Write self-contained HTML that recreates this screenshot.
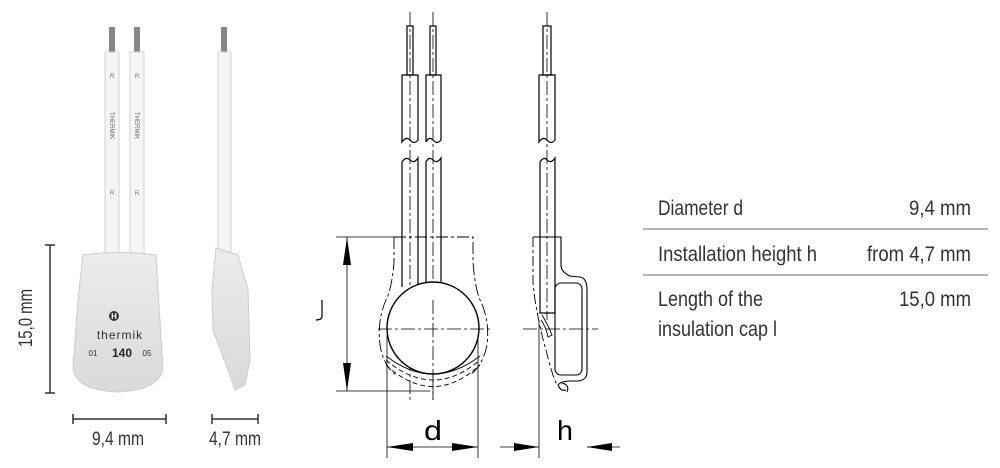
<!DOCTYPE html>
<html><head><meta charset="utf-8"><style>
html,body{margin:0;padding:0;background:#fff;}
svg{display:block}
</style></head><body>
<svg width="1000" height="468" viewBox="0 0 1000 468" xmlns="http://www.w3.org/2000/svg">
<defs>
<linearGradient id="cap" x1="0" y1="0" x2="0" y2="1"><stop offset="0" stop-color="#ececec"/><stop offset="1" stop-color="#dadada"/></linearGradient>
</defs>
<!-- PHOTO front -->
<g>
<rect x="109" y="27" width="6" height="26" fill="#888"/>
<rect x="134" y="27" width="6" height="26" fill="#888"/>
<rect x="105" y="52" width="14" height="205" fill="#f6f6f6" stroke="#d0d0d0"/>
<rect x="130" y="52" width="14" height="205" fill="#f6f6f6" stroke="#d0d0d0"/>
<text x="112" y="78" font-size="6" fill="#777" text-anchor="middle" font-family="Liberation Sans">R</text>
<text x="137" y="78" font-size="6" fill="#777" text-anchor="middle" font-family="Liberation Sans">R</text>
<text x="112" y="195" font-size="6" fill="#777" text-anchor="middle" font-family="Liberation Sans">R</text>
<text x="137" y="195" font-size="6" fill="#777" text-anchor="middle" font-family="Liberation Sans">R</text>
<text transform="translate(110,112) rotate(90)" font-size="6" fill="#666" font-family="Liberation Sans">THERMIK</text>
<text transform="translate(135,112) rotate(90)" font-size="6" fill="#666" font-family="Liberation Sans">THERMIK</text>
<path d="M83,255 Q120,250 156,255 L158,290 L163,368 Q160,390 118,392 Q75,390 73,368 L78,300Z" fill="url(#cap)" stroke="#ccc"/>
<circle cx="114" cy="316" r="5" fill="#333"/>
<text x="114" y="319" font-size="8" fill="#fff" text-anchor="middle" font-family="Liberation Sans" font-weight="bold">H</text>
<text x="120" y="339" font-size="12" fill="#333" text-anchor="middle" font-family="Liberation Sans" letter-spacing="1">thermik</text>
<text x="93" y="356" font-size="8" fill="#333" text-anchor="middle" font-family="Liberation Sans">01</text>
<text x="122" y="357" font-size="12" fill="#222" text-anchor="middle" font-family="Liberation Sans" font-weight="bold">140</text>
<text x="147" y="356" font-size="8" fill="#333" text-anchor="middle" font-family="Liberation Sans">05</text>
</g>
<!-- PHOTO side -->
<g>
<rect x="221" y="27" width="6" height="26" fill="#888"/>
<rect x="218" y="52" width="13" height="200" fill="#f6f6f6" stroke="#d0d0d0"/>
<path d="M216,248 L238,255 L248,290 L250,360 L245,385 L235,390 L228,370 L213,330 L212,290Z" fill="url(#cap)" stroke="#ccc"/>
</g>
<!-- photo dims -->
<g stroke="#333" stroke-width="1.5" fill="none">
<line x1="50" y1="245" x2="50" y2="393"/><line x1="45" y1="245" x2="55" y2="245"/><line x1="45" y1="393" x2="55" y2="393"/>
<line x1="73" y1="419" x2="166" y2="419"/><line x1="73" y1="414" x2="73" y2="424"/><line x1="166" y1="414" x2="166" y2="424"/>
<line x1="212" y1="419" x2="258" y2="419"/><line x1="212" y1="414" x2="212" y2="424"/><line x1="258" y1="414" x2="258" y2="424"/>
</g>
<g font-family="Liberation Sans Narrow, Liberation Sans, sans-serif" fill="#333" font-size="19">
<text transform="translate(32,318) rotate(-90)" text-anchor="middle" textLength="58" lengthAdjust="spacingAndGlyphs">15,0 mm</text>
<text x="118" y="445" text-anchor="middle" textLength="52" lengthAdjust="spacingAndGlyphs">9,4 mm</text>
<text x="235" y="445" text-anchor="middle" textLength="52" lengthAdjust="spacingAndGlyphs">4,7 mm</text>
</g>
<!-- DRAWING front -->
<g stroke="#000" stroke-width="1.2" fill="none">
<line x1="410" y1="12" x2="410" y2="400" stroke-width="0.8" stroke-dasharray="14,3,3,3"/>
<line x1="433" y1="12" x2="433" y2="400" stroke-width="0.8" stroke-dasharray="14,3,3,3"/>
<rect x="407" y="26" width="6" height="49"/>
<rect x="430" y="26" width="6" height="49"/>
<path d="M402,75 H418 V140 Q414,145 410,140 Q406,136 402,142 Z"/>
<path d="M426,75 H441 V140 Q437,145 433,140 Q429,136 426,142 Z"/>
<path d="M402,287 V162 Q406,156 410,160 Q414,164 418,158 V285"/>
<path d="M426,283 V162 Q429,156 433,160 Q437,164 441,158 V283"/>
<circle cx="433" cy="328" r="46" stroke-width="1.4" fill="#fff"/>
<line x1="378" y1="329" x2="490" y2="329" stroke-width="0.8" stroke-dasharray="14,3,3,3"/>
<line x1="433" y1="300" x2="433" y2="400" stroke-width="0.8" stroke-dasharray="14,3,3,3"/>
<path d="M394,237 H473 V262 Q475,288 480,300 Q490,320 487,345 Q483,365 470,375" stroke-width="0.9" stroke-dasharray="12,3,3,3"/>
<path d="M394,237 V262 Q392,288 386,300 Q377,320 380,345 Q383,365 396,375" stroke-width="0.9" stroke-dasharray="12,3,3,3"/>
<path d="M386,360 Q433,400 480,360" stroke-width="0.9" stroke-dasharray="5,3"/>
<path d="M386,365 Q433,408 480,365" stroke-width="0.9" stroke-dasharray="5,3"/>
<path d="M386,356 Q433,392 480,356" stroke-width="0.9"/>
<line x1="336" y1="237" x2="394" y2="237" stroke-width="0.8"/>
<line x1="336" y1="391" x2="430" y2="391" stroke-width="0.8"/>
<line x1="347" y1="237" x2="347" y2="391" stroke-width="0.8"/>
<path d="M322,300 V316 Q322,320 316,320" stroke-width="1.2"/>
<line x1="387" y1="335" x2="387" y2="458" stroke-width="0.8"/>
<line x1="478" y1="335" x2="478" y2="458" stroke-width="0.8"/>
<line x1="387" y1="447" x2="478" y2="447" stroke-width="0.8"/>
</g>
<g fill="#000">
<polygon points="347,237 343,265 351,265"/>
<polygon points="347,391 343,363 351,363"/>
<polygon points="387,447 413,443 413,451"/>
<polygon points="478,447 452,443 452,451"/>
<polygon points="539,447 514,443 514,451"/>
<polygon points="587,447 612,443 612,451"/>
</g>
<text x="433" y="440" font-family="Liberation Sans, sans-serif" font-size="28" text-anchor="middle" fill="#000" textLength="18" lengthAdjust="spacingAndGlyphs">d</text>
<!-- DRAWING side -->
<g stroke="#000" stroke-width="1.2" fill="none">
<line x1="547" y1="12" x2="547" y2="320" stroke-width="0.8" stroke-dasharray="14,3,3,3"/>
<rect x="543" y="26" width="8" height="49"/>
<path d="M539,75 H555 V140 Q551,145 547,140 Q543,136 539,142 Z"/>
<path d="M540,313 V162 Q544,156 547,160 Q551,164 555,158 V313 Z"/>
<path d="M542,315 Q548,325 552,335 L548,337 Q546,327 541,320" stroke-width="0.9"/>
<path d="M533,237 V283 L535,300 Q540,330 546,350 Q552,375 557,385" stroke-width="0.9" stroke-dasharray="10,3,3,3"/>
<path d="M533,237 H561 V265 Q561,272 570,276 L580,277 Q587,278 587,290 V372 Q587,380 578,381 H568 Q560,382 558,385 Q561,392 566,390 M562,383 Q570,385 567,392" stroke-width="1.1"/>
<rect x="555" y="283" width="27" height="92" rx="6" stroke-width="1.1"/>
<line x1="523" y1="329" x2="598" y2="329" stroke-width="0.8" stroke-dasharray="14,3,3,3"/>
<line x1="539" y1="320" x2="539" y2="458" stroke-width="0.8"/>
<line x1="500" y1="447" x2="539" y2="447" stroke-width="0.8"/>
<line x1="587" y1="447" x2="620" y2="447" stroke-width="0.8"/>
</g>
<text x="565" y="440" font-family="Liberation Sans, sans-serif" font-size="28" text-anchor="middle" fill="#000" textLength="16" lengthAdjust="spacingAndGlyphs">h</text>
<!-- TABLE -->
<g stroke="#888" stroke-width="1.2">
<line x1="643" y1="229" x2="988" y2="229"/>
<line x1="643" y1="275" x2="988" y2="275"/>
</g>
<g font-family="Liberation Sans Narrow, Liberation Sans, sans-serif" font-size="21" fill="#333">
<text x="658" y="215" textLength="85" lengthAdjust="spacingAndGlyphs">Diameter d</text>
<text x="971" y="215" text-anchor="end" textLength="62" lengthAdjust="spacingAndGlyphs">9,4 mm</text>
<text x="658" y="261" textLength="159" lengthAdjust="spacingAndGlyphs">Installation height h</text>
<text x="971" y="261" text-anchor="end" textLength="104" lengthAdjust="spacingAndGlyphs">from 4,7 mm</text>
<text x="658" y="306" textLength="105" lengthAdjust="spacingAndGlyphs">Length of the</text>
<text x="971" y="306" text-anchor="end" textLength="72" lengthAdjust="spacingAndGlyphs">15,0 mm</text>
<text x="658" y="336" textLength="119" lengthAdjust="spacingAndGlyphs">insulation cap l</text>
</g>
</svg>
</body></html>
